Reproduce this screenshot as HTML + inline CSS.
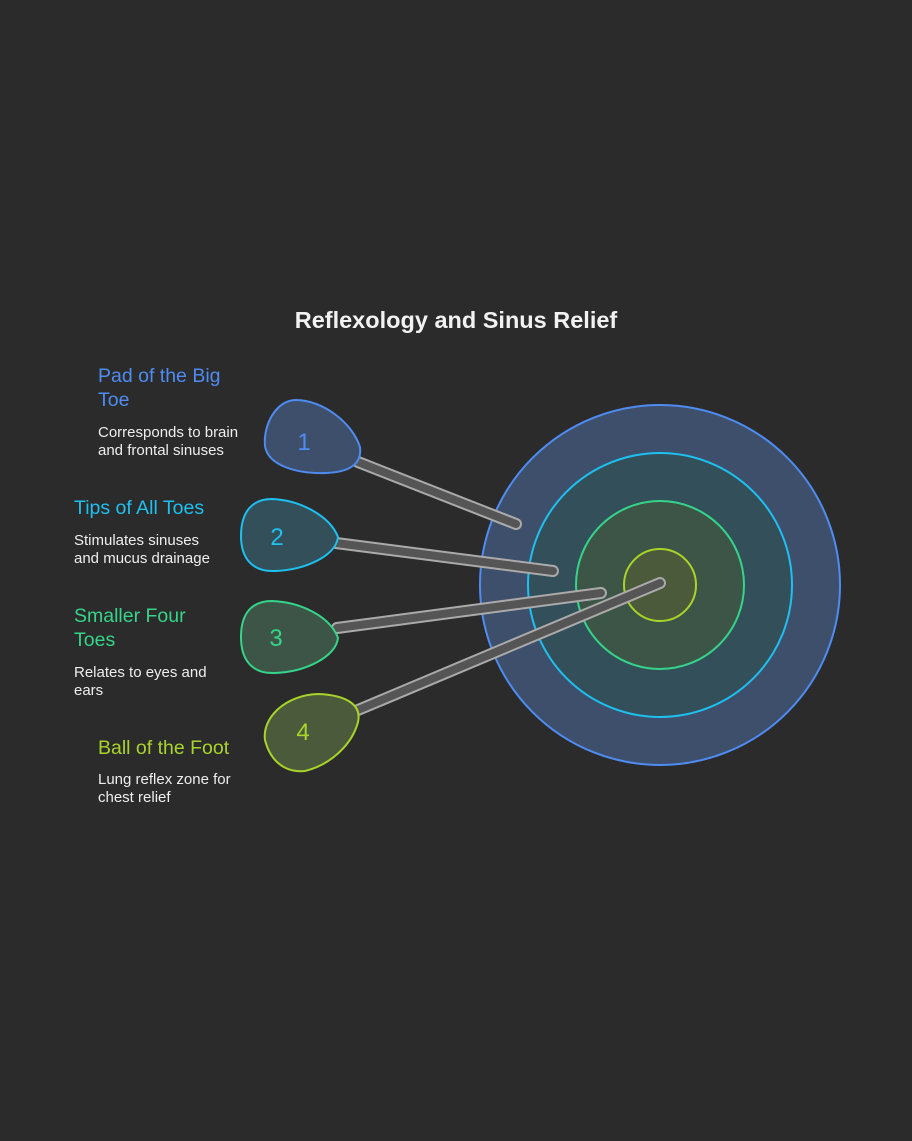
<!DOCTYPE html>
<html><head><meta charset="utf-8"><style>
body{margin:0;background:#2b2b2b;}
svg{display:block}
text{font-family:"Liberation Sans",sans-serif}
</style></head><body>
<svg width="912" height="1141" viewBox="0 0 912 1141">
<rect width="912" height="1141" fill="#2b2b2b"/>
<text x="456" y="328" text-anchor="middle" font-size="23.5" font-weight="bold" fill="#f2f2f2">Reflexology and Sinus Relief</text>

<circle cx="660" cy="585" r="180" fill="#3e4f6b" stroke="#4f8cf2" stroke-width="2"/>
<circle cx="660" cy="585" r="132" fill="#334f5a" stroke="#1ec0f0" stroke-width="2"/>
<circle cx="660" cy="585" r="84" fill="#3c5547" stroke="#35d48a" stroke-width="2"/>
<circle cx="660" cy="585" r="36" fill="#4c5a3c" stroke="#a8d42a" stroke-width="2"/>

<g stroke-linecap="round">
<line x1="358" y1="462" x2="516" y2="524" stroke="#aaa" stroke-width="12"/>
<line x1="358" y1="462" x2="516" y2="524" stroke="#555" stroke-width="8"/>
<line x1="336" y1="543" x2="553" y2="571" stroke="#aaa" stroke-width="12"/>
<line x1="336" y1="543" x2="553" y2="571" stroke="#555" stroke-width="8"/>
<line x1="337" y1="628" x2="601" y2="593" stroke="#aaa" stroke-width="12"/>
<line x1="337" y1="628" x2="601" y2="593" stroke="#555" stroke-width="8"/>
<line x1="358" y1="710" x2="660" y2="583" stroke="#aaa" stroke-width="12"/>
<line x1="358" y1="710" x2="660" y2="583" stroke="#555" stroke-width="8"/>
</g>

<path d="M296,400 C322,400 352,422 360,447 C362,464 350,472 326,473 C298,474 268,466 265,446 C263,425 276,400 296,400Z" fill="#3e4f6b" stroke="#4f8cf2" stroke-width="2"/>
<text x="304" y="450" text-anchor="middle" font-size="24" fill="#4f8cf2">1</text>
<path d="M272,499 C300,500 330,516 338,537 C336,556 305,570 275,571 C252,572 241,558 241,536 C241,512 252,499 272,499Z" fill="#334f5a" stroke="#1ec0f0" stroke-width="2"/>
<text x="277" y="545" text-anchor="middle" font-size="24" fill="#1ec0f0">2</text>
<path d="M272,601 C300,602 330,616 338,638 C336,657 305,672 275,673 C252,674 241,660 241,637 C241,613 252,601 272,601Z" fill="#3c5547" stroke="#35d48a" stroke-width="2"/>
<text x="276" y="646" text-anchor="middle" font-size="24" fill="#35d48a">3</text>
<path d="M318,694 C345,695 362,704 358,722 C352,745 330,765 305,771 C284,773 270,760 265,740 C262,718 285,695 318,694Z" fill="#4c5a3c" stroke="#a8d42a" stroke-width="2"/>
<text x="303" y="740" text-anchor="middle" font-size="24" fill="#a8d42a">4</text>

<g font-size="19.5">
<text x="98" y="382" fill="#4f8cf2">Pad of the Big</text>
<text x="98" y="406" fill="#4f8cf2">Toe</text>
<text x="74" y="514" fill="#1ec0f0">Tips of All Toes</text>
<text x="74" y="622" fill="#35d48a">Smaller Four</text>
<text x="74" y="646" fill="#35d48a">Toes</text>
<text x="98" y="754" fill="#a8d42a">Ball of the Foot</text>
</g>
<g font-size="15" fill="#eeeeee">
<text x="98" y="437">Corresponds to brain</text>
<text x="98" y="455">and frontal sinuses</text>
<text x="74" y="545">Stimulates sinuses</text>
<text x="74" y="563">and mucus drainage</text>
<text x="74" y="677">Relates to eyes and</text>
<text x="74" y="695">ears</text>
<text x="98" y="784">Lung reflex zone for</text>
<text x="98" y="802">chest relief</text>
</g>
</svg>
</body></html>
